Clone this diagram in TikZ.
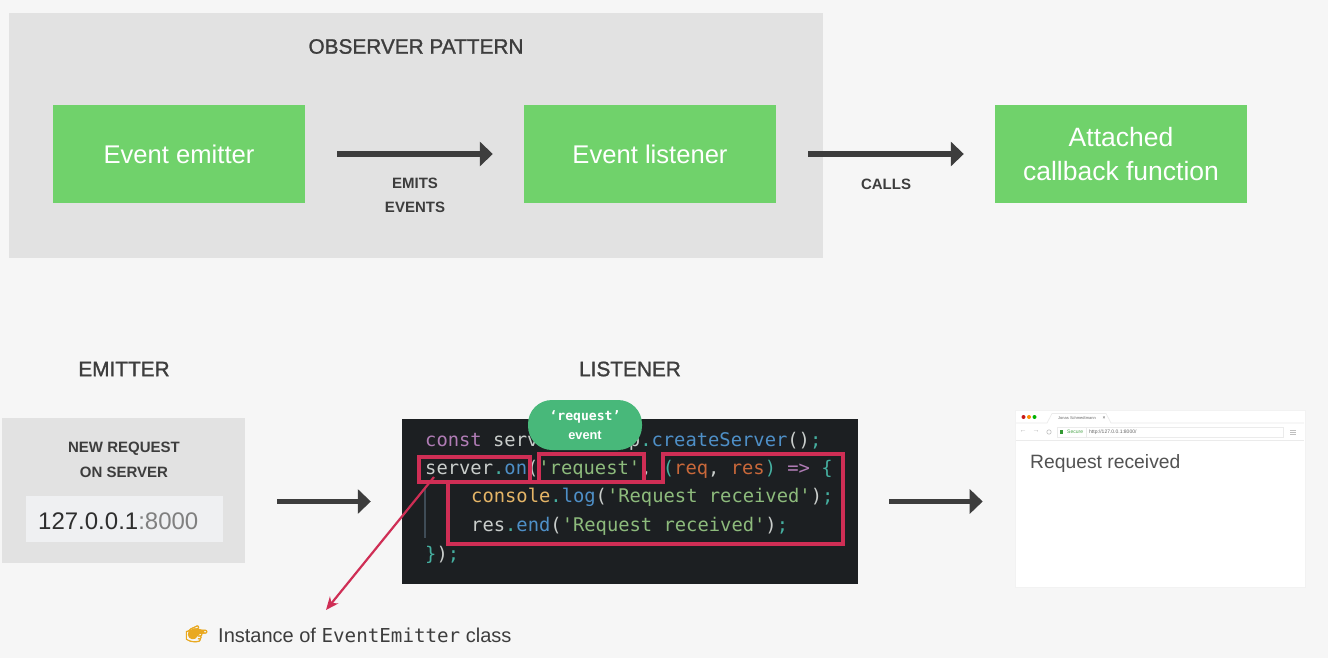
\documentclass[tikz,border=0pt]{standalone}
\usepackage{fontspec}
\setmainfont{Liberation Sans}
\setmonofont{DejaVu Sans Mono}
\newfontfamily\emojifont[FakeBold=2.5]{Noto Emoji}
\newfontfamily\headfont[FakeBold=1.3]{Liberation Sans}
\usetikzlibrary{arrows.meta,calc}
\definecolor{pagebg}{HTML}{F6F6F6}
\definecolor{panelgrey}{HTML}{E2E2E2}
\definecolor{boxgreen}{HTML}{70D26B}
\definecolor{inkdark}{HTML}{3D3D3D}
\definecolor{codebg}{HTML}{1C1F22}
\definecolor{redmark}{HTML}{CF2E55}
\definecolor{pillgreen}{HTML}{48B87A}
\definecolor{cpurple}{HTML}{B07CB5}
\definecolor{cplain}{HTML}{C9CDCB}
\definecolor{cteal}{HTML}{45AFA0}
\definecolor{cblue}{HTML}{4E8FC7}
\definecolor{cgreen}{HTML}{8DBB7C}
\definecolor{corange}{HTML}{C9683A}
\definecolor{cyellow}{HTML}{E5B567}
\definecolor{addrfill}{HTML}{EFF0F2}
\definecolor{guidegrey}{HTML}{3F4C57}
\definecolor{handyellow}{HTML}{E9A921}
\newcommand{\fs}[1]{\fontsize{#1}{#1}\selectfont}
\tikzset{
  greenbox/.style={fill=boxgreen,minimum width=252pt,minimum height=97pt,inner sep=0pt,text=white,align=center,font=\fs{25.6},text height=20pt,text depth=0pt},
  bigarrow/.style={draw=inkdark,line width=5.5pt,-{Triangle[length=13pt,width=24pt]}},
  heading/.style={text=inkdark,inner sep=0pt,font=\headfont\fs{20.8}},
  smalllabel/.style={text=inkdark,inner sep=0pt,align=center,font=\fs{15}\bfseries},
  codeline/.style={anchor=base west,inner sep=0pt,font=\ttfamily\fs{18.8},text=cplain},
  redframe/.style={draw=redmark,line width=4pt,fill=none,inner sep=0pt},
  chrome/.style={draw=black!8,line width=.7pt},
}
\begin{document}
\begin{tikzpicture}[x=1pt,y=-1pt]
\useasboundingbox (0,0) rectangle (1328,658);
\fill[pagebg] (0,0) rectangle (1328,658);

% observer pattern panel
\fill[panelgrey] (9,13) rectangle (823,258);
\node[heading] (obstitle) at (416,46.5) {OBSERVER PATTERN};
\node[greenbox] (emitter) at (179,154) {Event emitter};
\node[greenbox] (listener) at (650,154) {Event listener};
\node[greenbox,font=\fs{26.5},text height=,text depth=-4.5pt] (callback) at (1121,154) {Attached\\[7pt]callback function};
\draw[bigarrow,shorten <=32pt,shorten >=31pt] (emitter) -- (listener);
\draw[bigarrow,shorten <=32pt,shorten >=31pt] (listener) -- (callback);
\node[smalllabel] (emits1) at (415,183.5) {EMITS};
\node[smalllabel] (emits2) at (415,207.5) {EVENTS};
\node[smalllabel] (calls) at (886,184) {CALLS};

% headings of the lower row
\node[heading] (emhead) at (124,369) {EMITTER};
\node[heading] (lihead) at (630,369) {LISTENER};

% emitter panel
\node[fill=panelgrey,minimum width=243pt,minimum height=145pt,inner sep=0pt] (empanel) at (123.5,490) {};
\node[smalllabel] (newreq) at (124,448.5) {NEW REQUEST};
\node[smalllabel] (onserver) at (124,472.5) {ON SERVER};
\node[fill=addrfill,minimum width=197pt,minimum height=46pt,inner sep=0pt] (addrbox) at (124,519) {};
\node[anchor=base west,inner sep=0pt,font=\fs{24},text=black!82] (addr) at (38,529) {127.0.0.1\textcolor{black!50}{:8000}};

% code panel
\node[fill=codebg,minimum width=456pt,minimum height=165pt,inner sep=0pt] (code) at (630,501.5) {};
\node[codeline] (l1) at (425,446) {\textcolor{cpurple}{const} server = http\textcolor{cteal}{.}\textcolor{cblue}{createServer}()\textcolor{cteal}{;}};
\node[codeline] (l2) at (425,474) {server\textcolor{cteal}{.}\textcolor{cblue}{on}(\textcolor{cgreen}{'request'}, \textcolor{cteal}{(}\textcolor{corange}{req}, \textcolor{corange}{res}\textcolor{cteal}{)} \textcolor{cpurple}{=>} \textcolor{cteal}{\{}};
\node[codeline] (l3) at (471,502) {\textcolor{cyellow}{console}\textcolor{cteal}{.}\textcolor{cblue}{log}(\textcolor{cgreen}{'Request received'})\textcolor{cteal}{;}};
\node[codeline] (l4) at (471,531) {res\textcolor{cteal}{.}\textcolor{cblue}{end}(\textcolor{cgreen}{'Request received'})\textcolor{cteal}{;}};
\node[codeline] (l5) at (425,560) {\textcolor{cteal}{\}}\textcolor{cplain}{)}\textcolor{cteal}{;}};
\coordinate (guideA) at (425,487);
\coordinate (guideB) at (425,538);
\draw[draw=guidegrey,line width=1.5pt] (guideA) -- (guideB);

% red highlights
\node[redframe,minimum width=111pt,minimum height=25pt] (markon) at (474.5,469.5) {};
\node[redframe,minimum width=105pt,minimum height=28pt] (markreq) at (591.5,468) {};
\draw[redmark,line width=4pt,line join=miter] (663,454) -- (843,454) -- (843,544) -- (448,544) -- (448,482) -- (663,482) -- cycle;

% pill
\node[fill=pillgreen,rounded corners=24pt,minimum width=114pt,minimum height=50pt,inner sep=0pt] (pill) at (585,425) {};
\node[inner sep=0pt,text=white,font=\ttfamily\bfseries\fs{13.1}] (pill1) at (585,417) {‘request’};
\node[inner sep=0pt,text=white,font=\bfseries\fs{12.8}] (pill2) at (585,435) {event};

% browser
\node[fill=white,draw=black!5,line width=.6pt,minimum width=290pt,minimum height=177pt,inner sep=0pt] (browser) at (1160,498.5) {};
\fill[red!75!black!90] (1023.5,417) circle (2);
\fill[orange!90!yellow] (1029,417) circle (2);
\fill[green!70!black] (1034.5,417) circle (2);
\draw[chrome] (1016,423) -- (1047,423) -- (1052,413.5) -- (1106,413.5) -- (1111,423) -- (1304,423);
\node[inner sep=0pt,text=black!60,font=\fs{4}] (tabname) at (1077,418.5) {Jonas Schmedtmann};
\node[inner sep=0pt,text=black!70,font=\fs{5}] (tabx) at (1104,418.5) {×};
\draw[chrome] (1016,440) -- (1304,440);
\draw[chrome,fill=white] (1057,427.5) rectangle (1283,437);
\draw[chrome] (1086,427.5) -- (1086,437);
\node[inner sep=0pt,text=black!30,font=\fs{7}] (back) at (1023,432) {←};
\node[inner sep=0pt,text=black!30,font=\fs{7}] (fwd) at (1036,432) {→};
\draw[black!25,line width=.6pt] (1049,432) circle (2.2);
\fill[green!50!black!80] (1060,430) rectangle (1063,434);
\node[anchor=west,inner sep=0pt,text=green!50!black!70,font=\fs{5}] (secure) at (1067,432) {Secure};
\node[anchor=west,inner sep=0pt,text=black!60,font=\fs{5}] (url) at (1089,432) {http://127.0.0.1:8000/};
\draw[black!25,line width=.6pt] (1290,430.5) -- (1296,430.5) (1290,432.5) -- (1296,432.5) (1290,434.5) -- (1296,434.5);
\node[anchor=base west,inner sep=0pt,text=black!68,font=\fs{19.3}] (reqrec) at (1030,468) {Request received};

% lower arrows
\draw[bigarrow,shorten <=32pt,shorten >=31pt] (empanel.east |- code.west) -- (code.west);
\draw[bigarrow,shorten <=31pt,shorten >=32pt] (code.east) -- (code.east -| browser.west);

% pink pointer
\coordinate (ptrstart) at (434,477);
\coordinate (ptrend) at (326,610);
\draw[redmark,line width=2.2pt,-{Stealth[length=13pt,width=11pt]}] (ptrstart) -- (ptrend);

% note
\fill[handyellow,rounded corners=2pt] (187,633) -- (192,628.5) -- (197,628) -- (205,631) -- (205,633.5) -- (198,634) -- (197,638.5) -- (190,639.5) -- cycle;
\node[anchor=base west,inner sep=0pt,text=handyellow,font=\emojifont\fs{18}] (hand) at (185,640) {👉};
\node[anchor=base west,inner sep=0pt,text=inkdark,font=\fs{20}] (note) at (218,642) {Instance of {\ttfamily\fs{19.2}EventEmitter} class};
\end{tikzpicture}
\end{document}
